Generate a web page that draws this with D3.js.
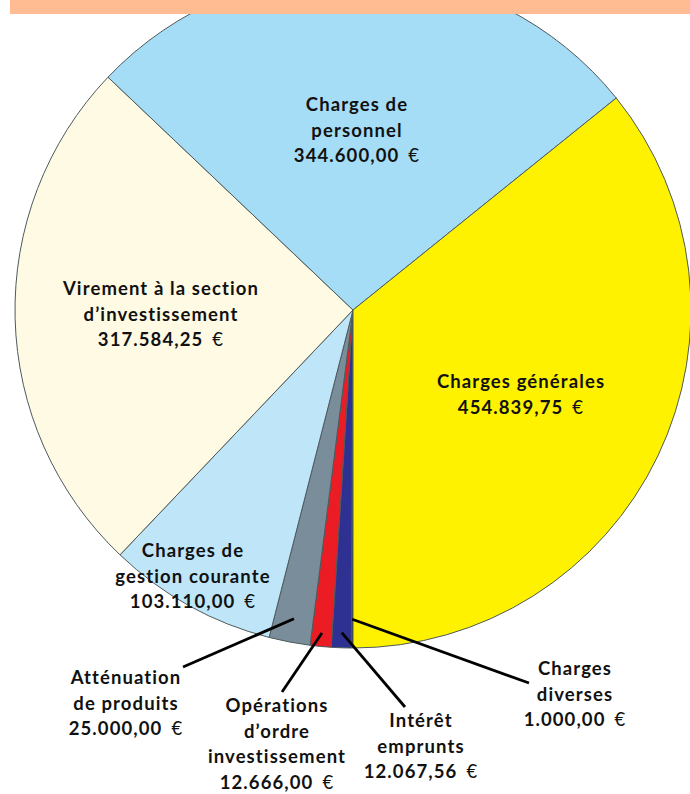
<!DOCTYPE html>
<html>
<head>
<meta charset="utf-8">
<script src="https://cdn.jsdelivr.net/npm/d3@7"></script>
<style>
  html, body { margin: 0; padding: 0; background: #fff; }
  svg { display: block; }
  text { font-family: Lato, "Open Sans", sans-serif; }
</style>
</head>
<body>
<svg id="chart" width="690" height="794"></svg>
<script>
// ---- data (clockwise from the bottom of the pie) ----
const categories = [
  "Charges diverses",
  "Intérêt emprunts",
  "Opérations d’ordre investissement",
  "Atténuation de produits",
  "Charges de gestion courante",
  "Virement à la section d’investissement",
  "Charges de personnel",
  "Charges générales"
];
const values = [1000.00, 12067.56, 12666.00, 25000.00, 103110.00, 317584.25, 344600.00, 454839.75];
const valueLabels = ["1.000,00", "12.067,56", "12.666,00", "25.000,00", "103.110,00", "317.584,25", "344.600,00", "454.839,75"];
const labelLines = [
  ["Charges", "diverses"],
  ["Intérêt", "emprunts"],
  ["Opérations", "d’ordre", "investissement"],
  ["Atténuation", "de produits"],
  ["Charges de", "gestion courante"],
  ["Virement à la section", "d’investissement"],
  ["Charges de", "personnel"],
  ["Charges générales"]
];

// ---- styles / layout ----
const colors = ["#231F20", "#2E3192", "#EC1C24", "#7A8D9B", "#BEE5F8", "#FFFAE3", "#A6DDF6", "#FFF200"];
const width = 690, height = 794;
const cx = 353, cy = 310, R = 338;
// label anchor (centre x, first baseline y) and leader line settings
const labelLayout = [
  {x: 575, y: 675, leader: {k: 0.915, end: [529, 683]}},
  {x: 421, y: 727, leader: {k: 0.955, end: [405, 707]}},
  {x: 277, y: 712, leader: {k: 0.96,  end: [282, 692]}},
  {x: 126, y: 684, leader: {k: 0.93,  end: [183, 667]}},
  {x: 193, y: 557},
  {x: 161, y: 295},
  {x: 357, y: 111},
  {x: 521, y: 388}
];
const lineH = 25.5;

const svg = d3.select("#chart");
const g = svg.append("g").attr("transform", `translate(${cx},${cy})`);

const pie = d3.pie().sort(null).value(d => d).startAngle(Math.PI).endAngle(3 * Math.PI);
const arcs = pie(values);
const arc = d3.arc().innerRadius(0).outerRadius(R);

g.selectAll("path.slice")
  .data(arcs)
  .join("path")
  .attr("class", "slice")
  .attr("d", arc)
  .attr("fill", (d, i) => colors[i])
  .attr("stroke", "#4d5a5c")
  .attr("stroke-width", 1)
  .attr("stroke-linejoin", "round");

// leader lines
arcs.forEach((d, i) => {
  const L = labelLayout[i].leader;
  if (!L) return;
  const a = (d.startAngle + d.endAngle) / 2;
  const r = R * L.k;
  const x0 = cx + r * Math.sin(a), y0 = cy - r * Math.cos(a);
  svg.append("line")
    .attr("x1", x0).attr("y1", y0)
    .attr("x2", L.end[0]).attr("y2", L.end[1])
    .attr("stroke", "#000").attr("stroke-width", 2.8);
});

// labels
arcs.forEach((d, i) => {
  const pos = labelLayout[i];
  const t = svg.append("text")
    .attr("text-anchor", "middle")
    .attr("font-size", 18.5)
    .attr("font-weight", 700)
    .attr("letter-spacing", 1.1)
    .attr("fill", "#111");
  const lines = labelLines[i];
  lines.forEach((ln, j) => {
    t.append("tspan").attr("x", pos.x).attr("y", pos.y + j * lineH).text(ln);
  });
  const last = t.append("tspan").attr("x", pos.x).attr("y", pos.y + lines.length * lineH);
  last.append("tspan").text(valueLabels[i]);
  last.append("tspan").attr("dx", 9).attr("font-weight", 400).text("€");
});

// top orange band
svg.append("rect").attr("x", 10).attr("y", 0).attr("width", width - 10).attr("height", 14).attr("fill", "#FFBB91");
</script>
</body>
</html>
